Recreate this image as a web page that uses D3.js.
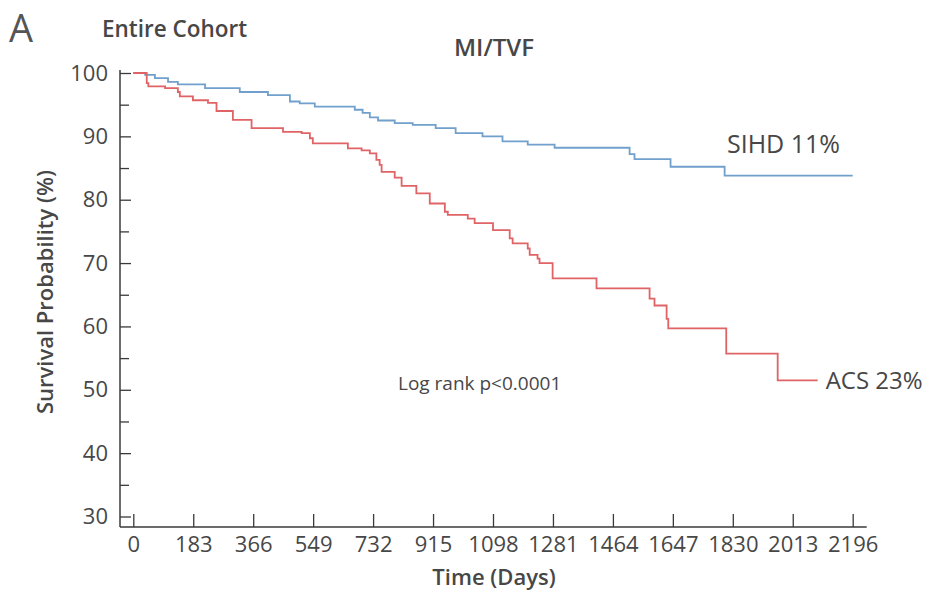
<!DOCTYPE html>
<html>
<head>
<meta charset="utf-8">
<script src="https://cdn.jsdelivr.net/npm/d3@7"></script>
<style>
  html, body { margin: 0; padding: 0; background: #ffffff; }
  svg { display: block; font-family: "Open Sans", "Noto Sans", sans-serif; }
</style>
</head>
<body>
<svg id="chart" width="927" height="593"></svg>
<script>
// Kaplan–Meier curves for MI/TVF, entire cohort
const sihdDays = [0, 36, 66, 106, 136, 219, 325, 411, 478, 508, 554, 676, 700, 722, 747, 798, 853, 923, 984, 1066, 1127, 1204, 1286, 1515, 1530, 1640, 1805, 2196];
const sihdSurv = [100, 99.7, 99.2, 98.6, 98.2, 97.6, 97.0, 96.5, 95.5, 95.2, 94.7, 94.2, 93.7, 93.0, 92.5, 92.1, 91.8, 91.3, 90.5, 90.0, 89.2, 88.7, 88.2, 87.2, 86.4, 85.2, 83.8, 83.8];

const acsDays = [0, 41, 46, 97, 136, 142, 182, 228, 254, 304, 361, 457, 514, 539, 548, 655, 697, 722, 742, 752, 758, 798, 819, 864, 905, 951, 960, 1021, 1042, 1098, 1149, 1158, 1204, 1210, 1234, 1240, 1280, 1414, 1576, 1591, 1628, 1633, 1810, 1967, 2089];
const acsSurv = [100, 98.4, 97.9, 97.6, 97.0, 96.3, 95.7, 95.3, 94.0, 92.6, 91.3, 90.7, 90.5, 89.7, 88.9, 88.1, 87.8, 87.3, 86.3, 85.5, 84.4, 83.5, 82.2, 81.0, 79.4, 78.1, 77.6, 77.0, 76.3, 75.2, 73.9, 73.1, 72.3, 71.3, 70.7, 70.0, 67.6, 66.0, 64.4, 63.3, 61.2, 59.7, 55.7, 51.5, 51.5];

const xTicks = [0, 183, 366, 549, 732, 915, 1098, 1281, 1464, 1647, 1830, 2013, 2196];
const yTicks = [30, 40, 50, 60, 70, 80, 90, 100];
const yMinorTicks = [35, 45, 55, 65, 75, 85, 95];

const seriesNames = ["SIHD 11%", "ACS 23%"];
const seriesColors = ["#70a0cb", "#e06366"];

const textColor = "#474747";
const axisColor = "#3a3a3a";

const svg = d3.select("#chart");

const x = d3.scaleLinear().domain([0, 2196]).range([133.3, 852.7]);
const y = d3.scaleLinear().domain([30, 100]).range([516.5, 73]);

const yAxisX = 120;     // vertical axis sits a little left of day 0
const xAxisY = 527;     // horizontal axis sits a little below 30 %

// axes
const gx = svg.append("g")
  .attr("transform", `translate(0,${xAxisY})`)
  .call(d3.axisBottom(x).tickValues(xTicks).tickFormat(d3.format("d"))
    .tickSizeInner(-13).tickSizeOuter(0).tickPadding(9));
gx.select(".domain").remove();
gx.selectAll(".tick line").attr("stroke", axisColor).attr("stroke-width", 1.3);
gx.selectAll(".tick text").attr("fill", textColor).style("font-size", "22px")
  .style("font-family", "'Open Sans', sans-serif");

const gy = svg.append("g")
  .attr("transform", `translate(${yAxisX},0)`)
  .call(d3.axisLeft(y).tickValues(yTicks).tickFormat(d3.format("d"))
    .tickSizeInner(-11).tickSizeOuter(0).tickPadding(12));
gy.select(".domain").remove();
gy.selectAll(".tick line").attr("stroke", axisColor).attr("stroke-width", 1.3);
gy.selectAll(".tick text").attr("fill", textColor).style("font-size", "22px")
  .style("font-family", "'Open Sans', sans-serif");

const gyMinor = svg.append("g")
  .attr("transform", `translate(${yAxisX},0)`)
  .call(d3.axisLeft(y).tickValues(yMinorTicks).tickFormat("")
    .tickSizeInner(-9).tickSizeOuter(0));
gyMinor.select(".domain").remove();
gyMinor.selectAll(".tick line").attr("stroke", axisColor).attr("stroke-width", 1.3);

// axis lines
svg.append("line")
  .attr("x1", yAxisX).attr("x2", yAxisX)
  .attr("y1", y(100) - 3).attr("y2", xAxisY)
  .attr("stroke", axisColor).attr("stroke-width", 1.5);
svg.append("line")
  .attr("x1", yAxisX).attr("x2", x(2196) + 14)
  .attr("y1", xAxisY).attr("y2", xAxisY)
  .attr("stroke", axisColor).attr("stroke-width", 1.5);

// survival step curves
const step = d3.line()
  .x(d => x(d[0]))
  .y(d => y(d[1]))
  .curve(d3.curveStepAfter);

const sihd = d3.zip(sihdDays, sihdSurv);
const acs = d3.zip(acsDays, acsSurv);

svg.append("path").datum(sihd)
  .attr("d", step).attr("fill", "none")
  .attr("stroke", seriesColors[0]).attr("stroke-width", 1.8);
svg.append("path").datum(acs)
  .attr("d", step).attr("fill", "none")
  .attr("stroke", seriesColors[1]).attr("stroke-width", 1.8);

// series labels
svg.append("text").attr("x", 727).attr("y", 153)
  .attr("fill", textColor).style("font-size", "25px").text(seriesNames[0]);
svg.append("text").attr("x", x(2089) + 8).attr("y", 389)
  .attr("fill", textColor).style("font-size", "24px").text(seriesNames[1]);

svg.append("text").attr("x", 398).attr("y", 390)
  .attr("fill", textColor).style("font-size", "19px").text("Log rank p<0.0001");

// titles
svg.append("text").attr("x", 9).attr("y", 42)
  .attr("fill", "#555555").style("font-size", "38px").style("font-weight", 400).text("A");
svg.append("text").attr("x", 102).attr("y", 37)
  .attr("fill", textColor).style("font-size", "22.5px").style("font-weight", 600).text("Entire Cohort");
svg.append("text").attr("x", 494).attr("y", 56).attr("text-anchor", "middle")
  .attr("fill", textColor).style("font-size", "24px").style("font-weight", 600).text("MI/TVF");

svg.append("text").attr("x", 494).attr("y", 585).attr("text-anchor", "middle")
  .attr("fill", textColor).style("font-size", "22px").style("font-weight", 600).text("Time (Days)");
svg.append("text")
  .attr("transform", "translate(53,292) rotate(-90)")
  .attr("text-anchor", "middle")
  .attr("fill", textColor).style("font-size", "22px").style("font-weight", 600)
  .text("Survival Probability (%)");
</script>
</body>
</html>
